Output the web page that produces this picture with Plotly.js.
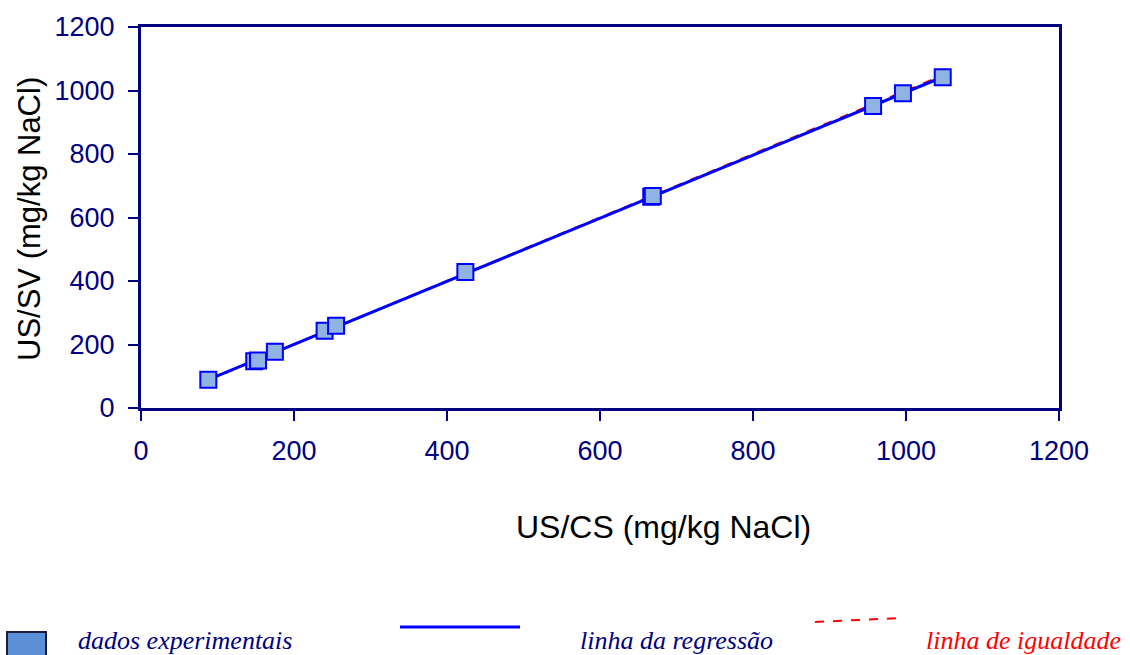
<!DOCTYPE html>
<html>
<head>
<meta charset="utf-8">
<script src="https://cdn.plot.ly/plotly-3.0.1.min.js"></script>
<style>
  html, body { margin: 0; padding: 0; background: #ffffff; }
  #chart { width: 1130px; height: 655px; }
</style>
</head>
<body>
<div id="chart"></div>
<script>
// Salinity determined by two methods (mg/kg NaCl)
const usCs = [88, 148, 153, 175, 240, 255, 424, 667, 669, 957, 996, 1048];
const usSv = [89, 147, 150, 177, 243, 259, 428, 665, 668, 951, 991, 1042];

// Fitted regression line, drawn between the ends of the data range
const regX = [88, 1048];
const regY = [89.5, 1042.5];

// Line of equality (y = x)
const eqX = [88, 1048];
const eqY = [88, 1048];

const axisTicks = [0, 200, 400, 600, 800, 1000, 1200];

const legendLabels = ['dados experimentais', 'linha da regressão', 'linha de igualdade'];
const xTitle = 'US/CS (mg/kg NaCl)';
const yTitle = 'US/SV (mg/kg NaCl)';

const W = 1130, H = 655;
const M = { l: 141, r: 71, t: 27, b: 247 };
const px = x => (x - M.l) / (W - M.l - M.r);
const py = y => (H - M.b - y) / (H - M.t - M.b);

const navy = '#000080';

const traces = [
  {
    x: eqX, y: eqY, mode: 'lines', type: 'scatter',
    line: { color: '#ff0000', width: 2, dash: 'dash' },
    hoverinfo: 'skip', showlegend: false
  },
  {
    x: regX, y: regY, mode: 'lines', type: 'scatter',
    line: { color: '#0000ff', width: 3 },
    hoverinfo: 'skip', showlegend: false
  },
  {
    x: usCs, y: usSv, mode: 'markers', type: 'scatter',
    marker: { symbol: 'square', size: 16, color: '#8fb4e3',
              line: { color: '#0000ff', width: 2 } },
    showlegend: false
  }
];

const axisCommon = {
  range: [0, 1200],
  tickvals: axisTicks,
  ticktext: axisTicks.map(String),
  showgrid: false, zeroline: false,
  showline: true, linecolor: navy, linewidth: 3, mirror: true,
  ticks: 'outside', ticklen: 10, tickwidth: 2, tickcolor: navy,
  tickfont: { family: 'Liberation Sans, Arial, sans-serif', size: 27, color: navy },
  fixedrange: true
};

const layout = {
  width: W, height: H,
  margin: M,
  paper_bgcolor: '#ffffff', plot_bgcolor: '#ffffff',
  showlegend: false,
  xaxis: Object.assign({}, axisCommon, { ticklabelstandoff: 7 }),
  yaxis: Object.assign({}, axisCommon, { ticklabelstandoff: 8 }),
  shapes: [
    { type: 'rect', xref: 'paper', yref: 'paper',
      x0: px(7), x1: px(46), y0: py(632), y1: py(660),
      fillcolor: '#5b8fd6', line: { color: '#1c1c3c', width: 2 } },
    { type: 'line', xref: 'paper', yref: 'paper',
      x0: px(400), x1: px(520), y0: py(627), y1: py(627),
      line: { color: '#0000ff', width: 3 } },
    { type: 'line', xref: 'paper', yref: 'paper',
      x0: px(815), x1: px(902), y0: py(622), y1: py(618),
      line: { color: '#ff0000', width: 2, dash: 'dash' } }
  ],
  annotations: [
    { xref: 'paper', yref: 'paper', x: px(663), y: py(527),
      xanchor: 'center', yanchor: 'middle', showarrow: false,
      text: xTitle, font: { family: 'Liberation Sans, Arial, sans-serif', size: 32, color: '#000000' } },
    { xref: 'paper', yref: 'paper', x: px(29), y: py(219),
      xanchor: 'center', yanchor: 'middle', showarrow: false, textangle: -90,
      text: yTitle, font: { family: 'Liberation Sans, Arial, sans-serif', size: 31, color: '#000000' } },
    { xref: 'paper', yref: 'paper', x: px(76), y: py(640),
      xanchor: 'left', yanchor: 'middle', showarrow: false,
      text: '<i>' + legendLabels[0] + '</i>',
      font: { family: 'Liberation Serif, Times New Roman, serif', size: 26, color: navy } },
    { xref: 'paper', yref: 'paper', x: px(578), y: py(640),
      xanchor: 'left', yanchor: 'middle', showarrow: false,
      text: '<i>' + legendLabels[1] + '</i>',
      font: { family: 'Liberation Serif, Times New Roman, serif', size: 26, color: navy } },
    { xref: 'paper', yref: 'paper', x: px(924), y: py(640),
      xanchor: 'left', yanchor: 'middle', showarrow: false,
      text: '<i>' + legendLabels[2] + '</i>',
      font: { family: 'Liberation Serif, Times New Roman, serif', size: 26, color: '#ff0000' } }
  ]
};

Plotly.newPlot('chart', traces, layout, { displayModeBar: false, staticPlot: true });
</script>
</body>
</html>
